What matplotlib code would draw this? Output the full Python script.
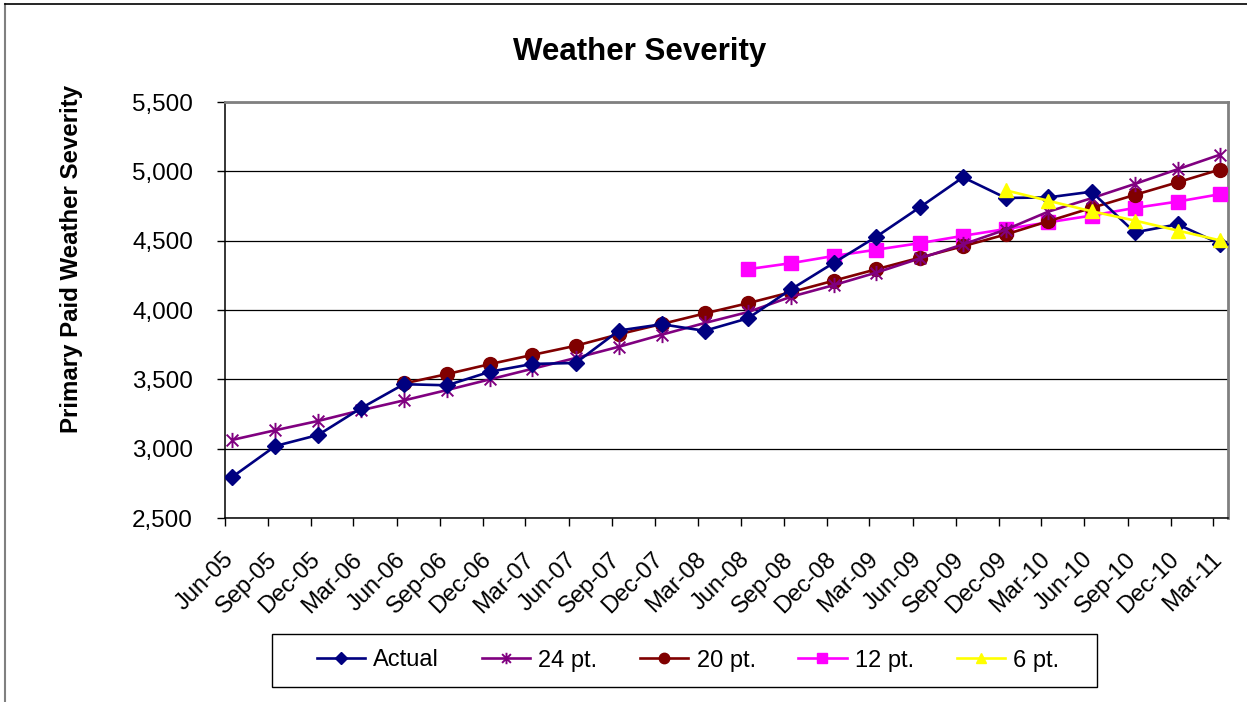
import matplotlib
matplotlib.use("Agg")
import matplotlib.pyplot as plt
import matplotlib.transforms as mtransforms
from matplotlib.path import Path
from matplotlib.lines import Line2D
from matplotlib.patches import Rectangle
from matplotlib.ticker import FuncFormatter
import pandas as pd
import numpy as np

plt.rcParams['font.family'] = ['Liberation Sans', 'DejaVu Sans']

# ---- data ----
labels = ["Jun-05", "Sep-05", "Dec-05", "Mar-06", "Jun-06", "Sep-06", "Dec-06", "Mar-07",
          "Jun-07", "Sep-07", "Dec-07", "Mar-08", "Jun-08", "Sep-08", "Dec-08", "Mar-09",
          "Jun-09", "Sep-09", "Dec-09", "Mar-10", "Jun-10", "Sep-10", "Dec-10", "Mar-11"]

actual = [2795, 3019, 3099, 3290, 3465, 3457, 3555, 3611, 3618, 3852, 3897, 3850,
          3940, 4150, 4341, 4529, 4740, 4957, 4808, 4812, 4853, 4560, 4618, 4478]
pt24 = [3063, 3133, 3200, 3276, 3348, 3423, 3500, 3576, 3654, 3735, 3822, 3906,
        3985, 4096, 4180, 4270, 4372, 4473, 4580, 4709, 4806, 4909, 5015, 5120]
pt20 = [None, None, None, None, 3470, 3538, 3610, 3676, 3742, 3825, 3899, 3975,
        4049, 4129, 4212, 4294, 4377, 4460, 4545, 4640, 4736, 4830, 4921, 5013]
pt12 = [None] * 12 + [4294, 4338, 4390, 4435, 4482, 4535, 4584, 4632, 4681, 4736, 4782, 4835]
pt6 = [None] * 18 + [4863, 4788, 4712, 4645, 4573, 4502]

tick_dates = pd.date_range("2005-06-01", periods=len(labels), freq="3MS")
data_dates = tick_dates + pd.Timedelta(days=15)

W, H = 1247, 702
fig = plt.figure(figsize=(W / 100, H / 100), dpi=100)
ax = fig.add_axes([225 / W, 1 - 518 / H, (1228 - 225) / W, (518 - 102) / H])

# asterisk marker: x plus vertical bar
star = Path([(-1, -1), (1, 1), (-1, 1), (1, -1), (0, -1.3), (0, 1.3)],
            [Path.MOVETO, Path.LINETO, Path.MOVETO, Path.LINETO, Path.MOVETO, Path.LINETO])

def ser(vals):
    return np.array([np.nan if v is None else v for v in vals], dtype=float)

lw = 1.9
ax.plot(data_dates, ser(actual), color="#000080", lw=lw, marker="D", ms=8,
        mfc="#000080", mec="#000080", label="Actual", zorder=6)
ax.plot(data_dates, ser(pt24), color="#800080", lw=lw, marker=star, ms=11,
        mfc="none", mec="#800080", mew=1.4, label="24 pt.", zorder=5)
ax.plot(data_dates, ser(pt20), color="#800000", lw=lw, marker="o", ms=10,
        mfc="#800000", mec="#800000", label="20 pt.", zorder=4)
ax.plot(data_dates, ser(pt12), color="#FF00FF", lw=lw, marker="s", ms=9.5,
        mfc="#FF00FF", mec="#FF00FF", label="12 pt.", zorder=3)
ax.plot(data_dates, ser(pt6), color="#FFFF00", lw=lw, marker="^", ms=10,
        mfc="#FFFF00", mec="#FFFF00", label="6 pt.", zorder=7)

ax.set_ylim(2500, 5500)
ax.set_yticks(np.arange(2500, 5501, 500))
ax.yaxis.set_major_formatter(FuncFormatter(lambda v, p: f"{int(v):,}"))
ax.set_xlim(tick_dates[0], pd.Timestamp("2011-04-02"))
ax.set_xticks(tick_dates)
ax.set_xticklabels(labels, rotation=45, ha="right", va="top")
ax.grid(axis="y", color="black", lw=0.9)
ax.set_axisbelow(True)

ax.tick_params(axis="y", direction="out", length=6, width=1, labelsize=17.5, pad=17)
ax.tick_params(axis="x", direction="out", length=6, width=1, labelsize=17, pad=16)

offset = mtransforms.ScaledTranslation(13 / 100, 0, fig.dpi_scale_trans)
for lab in ax.get_xticklabels():
    lab.set_transform(lab.get_transform() + offset)

for s in ["left", "bottom"]:
    ax.spines[s].set_color("black")
    ax.spines[s].set_linewidth(1.1)
for s in ["top", "right"]:
    ax.spines[s].set_color("#808080")
    ax.spines[s].set_linewidth(2)

fig.text(640 / W, 1 - 52 / H, "Weather Severity", ha="center", va="center",
         fontsize=22.5, fontweight="bold")
fig.text(72 / W, 1 - 259 / H, "Primary Paid Weather Severity", ha="center", va="center",
         rotation=90, fontsize=17.3, fontweight="bold")

leg = fig.legend(loc="center", bbox_to_anchor=(688 / W, 1 - 660.5 / H), ncol=5,
                 fontsize=17, frameon=False,
                 handlelength=2.05, handletextpad=0.35, columnspacing=1.8,
                 markerscale=0.75)

# legend frame
fig.add_artist(Rectangle((272 / W, 1 - 687 / H), (1097 - 272) / W, (687 - 634) / H,
                         transform=fig.transFigure, fill=False, edgecolor="black", lw=1.0))

# outer chart border
fig.add_artist(Line2D([5 / W, 5 / W], [0, 1 - 4 / H], color="#808080", lw=1.5,
                      transform=fig.transFigure))
fig.add_artist(Line2D([5 / W, 1], [1 - 4 / H, 1 - 4 / H], color="black", lw=1.2,
                      transform=fig.transFigure))

fig.savefig("out.png", dpi=100)
